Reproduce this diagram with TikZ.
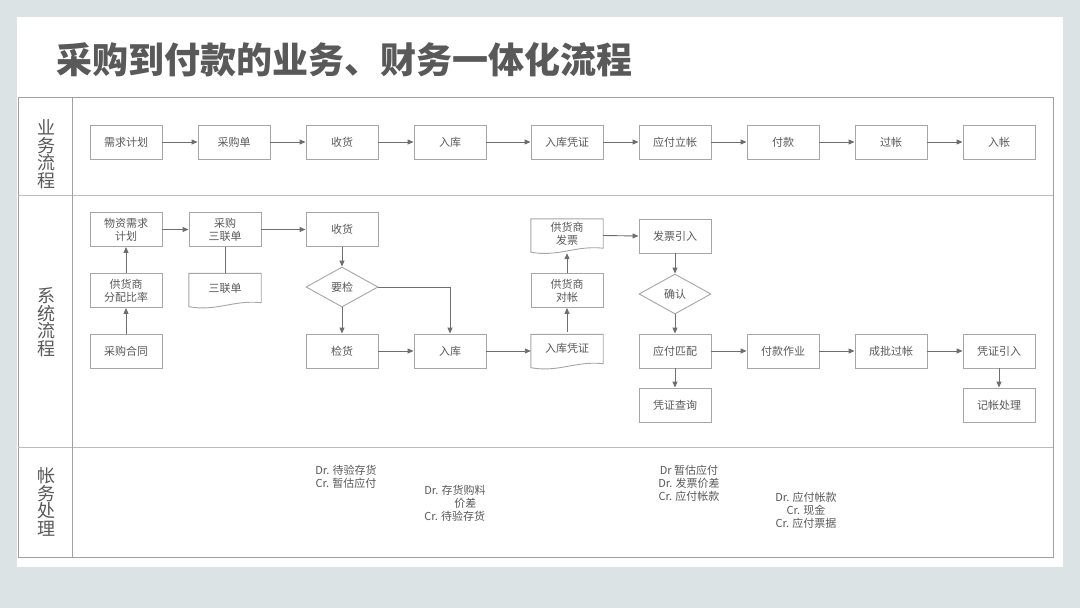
\documentclass[tikz,border=0pt]{standalone}
\usepackage{fontspec}
\setmainfont{Noto Sans CJK SC}
\usetikzlibrary{arrows.meta,calc,shapes.geometric}
\definecolor{bgc}{HTML}{DCE3E5}
\definecolor{txt}{HTML}{595959}
\definecolor{bord}{HTML}{A6A6A6}
\definecolor{tline}{HTML}{A0A0A0}
\definecolor{arrc}{HTML}{6E6E6E}
\tikzset{
  boxline/.style={draw=bord, line width=0.9pt},
  fbox/.style={boxline, fill=white, minimum width=72pt, minimum height=34pt, inner sep=0pt,
    align=center, font=\fontsize{11pt}{13pt}\selectfont, text=txt},
  docbox/.style={minimum width=72pt, minimum height=33pt, inner sep=0pt,
    align=center, font=\fontsize{11pt}{13pt}\selectfont, text=txt},
  dia/.style={boxline, diamond, aspect=1.8, minimum width=72pt, minimum height=40pt, inner sep=0pt,
    font=\fontsize{11pt}{13pt}\selectfont, text=txt},
  arr/.style={draw=arrc, line width=0.9pt, -{Triangle[length=6pt,width=5pt]}},
  plain/.style={draw=arrc, line width=0.9pt},
  lane/.style={align=center, font=\fontsize{18pt}{17.5pt}\selectfont, text=txt},
  acct/.style={align=center, font=\fontsize{11pt}{13pt}\selectfont, text=txt},
}
\newcommand\docoutline[1]{%
  \draw[boxline, fill=white] (#1.north west) -- (#1.north east) -- ([yshift=4pt]#1.south east)
    .. controls ([xshift=-28pt,yshift=7pt]#1.south east) and ([xshift=28pt,yshift=-5pt]#1.south west)
    .. (#1.south west) -- cycle;}
\begin{document}
\begin{tikzpicture}[x=1pt,y=-1pt]
\useasboundingbox (0,0) rectangle (1080,608);
\fill[bgc] (0,0) rectangle (1080,608);
\fill[white] (17,17) rectangle (1063,567);
% title
\node[anchor=west, font=\fontsize{36pt}{40pt}\selectfont\bfseries, text=txt, inner sep=0pt] (title) at (56,60) {采购到付款的业务、财务一体化流程};
% table
\draw[tline, line width=1pt] (18,97) rectangle (1053,557);
\draw[tline!70, line width=1pt] (18,195) -- (1053,195);
\draw[tline!70, line width=1pt] (18,447) -- (1053,447);
\draw[tline, line width=1pt] (72,97) -- (72,557);
% lane labels
\node[lane] (l1) at (46,154) {业\\务\\流\\程};
\node[lane] (l2) at (46,322) {系\\统\\流\\程};
\node[lane] (l3) at (46,502) {帐\\务\\处\\理};
% row 1
\node[fbox] (a1) at (126,142) {需求计划};
\node[fbox] (a2) at (234,142) {采购单};
\node[fbox] (a3) at (342,142) {收货};
\node[fbox] (a4) at (450,142) {入库};
\node[fbox] (a5) at (567,142) {入库凭证};
\node[fbox] (a6) at (675,142) {应付立帐};
\node[fbox] (a7) at (783,142) {付款};
\node[fbox] (a8) at (891,142) {过帐};
\node[fbox] (a9) at (999,142) {入帐};
\foreach \i/\j in {a1/a2,a2/a3,a3/a4,a4/a5,a5/a6,a6/a7,a7/a8,a8/a9}
  \draw[arr] (\i.east) -- (\j.west);
% row 2 left
\node[fbox] (b1) at (126,229.5) {物资需求\\计划};
\node[fbox] (b2) at (126,290.5) {供货商\\分配比率};
\node[fbox] (b3) at (126,351) {采购合同};
\node[fbox] (b4) at (225,229.5) {采购\\三联单};
\node[docbox] (b5) at (225,290) {};
\docoutline{b5}
\node[docbox] at (225,288) {三联单};
\node[fbox] (b6) at (342,229.5) {收货};
\node[dia] (b7) at (342,287) {要检};
\node[fbox] (b8) at (342,351) {检货};
\node[fbox] (b9) at (450,351) {入库};
\draw[arr] (b3.north) -- (b2.south);
\draw[arr] (b2.north) -- (b1.south);
\draw[arr] (b1.east) -- (b4.west);
\draw[arr] (b4.east) -- (b6.west);
\draw[plain] (b4.south) -- (b5.north);
\draw[arr] (b6.south) -- (b7.north);
\draw[arr] (b7.south) -- (b8.north);
\draw[arr] (b7.east) -| (b9.north);
\draw[arr] (b8.east) -- (b9.west);
% row 2 right
\node[docbox] (c1) at (567,351) {};
\docoutline{c1}
\node[docbox] at (567,348) {入库凭证};
\node[fbox] (c2) at (567,290.5) {供货商\\对帐};
\node[docbox] (c3) at (567,235.5) {};
\docoutline{c3}
\node[docbox] at (567,233.5) {供货商\\发票};
\node[fbox] (c4) at (675,236) {发票引入};
\node[dia] (c5) at (675,294) {确认};
\node[fbox] (c6) at (675,351) {应付匹配};
\node[fbox] (c7) at (783,351) {付款作业};
\node[fbox] (c8) at (891,351) {成批过帐};
\node[fbox] (c9) at (999,351) {凭证引入};
\node[fbox] (c10) at (675,405) {凭证查询};
\node[fbox] (c11) at (999,405) {记帐处理};
\draw[arr] (b9.east) -- (c1.west);
\draw[arr] ([yshift=2pt]c1.north) -- (c2.south);
\draw[arr] (c2.north) -- ([yshift=-1pt]c3.south);
\draw[arr] (c3.east) -- (c4.west);
\draw[arr] (c4.south) -- (c5.north);
\draw[arr] (c5.south) -- (c6.north);
\draw[arr] (c6.south) -- (c10.north);
\draw[arr] (c6.east) -- (c7.west);
\draw[arr] (c7.east) -- (c8.west);
\draw[arr] (c8.east) -- (c9.west);
\draw[arr] (c9.south) -- (c11.north);
% accounting
\node[acct] (d1) at (346,476.5) {Dr. 待验存货\\Cr. 暂估应付};
\node[acct, align=left] (d2) at (455,503) {Dr. 存货购料\\\hspace*{30pt}价差\\Cr. 待验存货};
\node[acct] (d3) at (689,483) {Dr 暂估应付\\Dr. 发票价差\\Cr. 应付帐款};
\node[acct] (d4) at (806,510) {Dr. 应付帐款\\Cr. 现金\\Cr. 应付票据};
\end{tikzpicture}
\end{document}
